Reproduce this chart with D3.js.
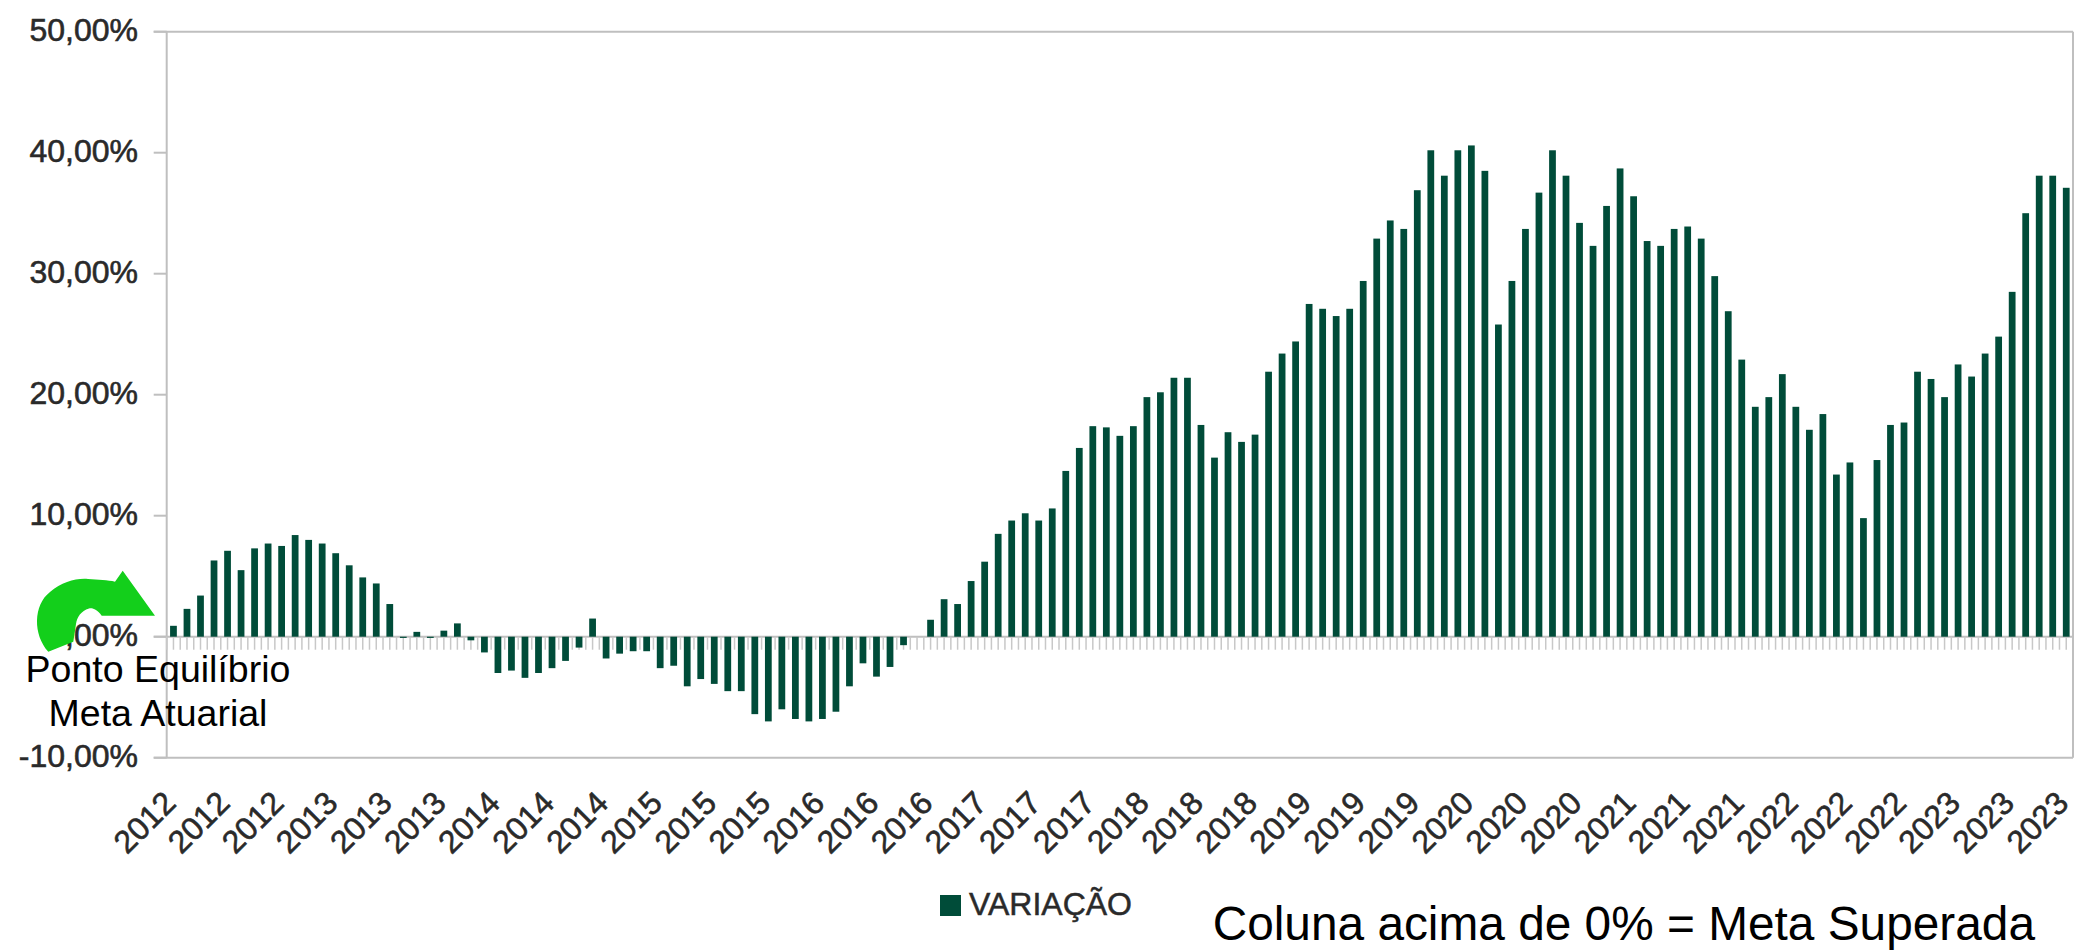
<!DOCTYPE html>
<html>
<head>
<meta charset="utf-8">
<script src="https://cdn.jsdelivr.net/npm/d3@7"></script>
<style>
  body { margin: 0; background: #fff; }
  svg text { font-family: "Liberation Sans", Arial, sans-serif; }
</style>
</head>
<body>
<svg id="chart" width="2075" height="950"></svg>
<script>
// variação mensal acumulada vs meta atuarial (%), jan/2012 .. set/2023
const valores = [
  0.9, 2.3, 3.4, 6.3, 7.1, 5.5, 7.3, 7.7, 7.5, 8.4, 8.0, 7.7,
  6.9, 5.9, 4.9, 4.4, 2.7, -0.1, 0.4, -0.1, 0.5, 1.1, -0.3, -1.3,
  -3.0, -2.8, -3.4, -3.0, -2.6, -2.0, -0.9, 1.5, -1.8, -1.4, -1.2, -1.2,
  -2.6, -2.4, -4.1, -3.5, -3.9, -4.5, -4.5, -6.4, -7.0, -6.0, -6.8, -7.0,
  -6.8, -6.2, -4.1, -2.2, -3.3, -2.5, -0.7, 0.0, 1.4, 3.1, 2.7, 4.6,
  6.2, 8.5, 9.6, 10.2, 9.6, 10.6, 13.7, 15.6, 17.4, 17.3, 16.6, 17.4,
  19.8, 20.2, 21.4, 21.4, 17.5, 14.8, 16.9, 16.1, 16.7, 21.9, 23.4, 24.4,
  27.5, 27.1, 26.5, 27.1, 29.4, 32.9, 34.4, 33.7, 36.9, 40.2, 38.1, 40.2,
  40.6, 38.5, 25.8, 29.4, 33.7, 36.7, 40.2, 38.1, 34.2, 32.3, 35.6, 38.7,
  36.4, 32.7, 32.3, 33.7, 33.9, 32.9, 29.8, 26.9, 22.9, 19.0, 19.8, 21.7,
  19.0, 17.1, 18.4, 13.4, 14.4, 9.8, 14.6, 17.5, 17.7, 21.9, 21.3, 19.8,
  22.5, 21.5, 23.4, 24.8, 28.5, 35.0, 38.1, 38.1, 37.1
];

// rótulo a cada 4 meses
const rotulosX = [
  "2012", "2012", "2012", "2013", "2013", "2013", "2014", "2014", "2014",
  "2015", "2015", "2015", "2016", "2016", "2016", "2017", "2017", "2017",
  "2018", "2018", "2018", "2019", "2019", "2019", "2020", "2020", "2020",
  "2021", "2021", "2021", "2022", "2022", "2022", "2023", "2023", "2023"
];
const passoRotulo = 4;

const ticksY = [50, 40, 30, 20, 10, 0, -10];

const serieNome = "VARIAÇÃO";
const nota = ["Ponto Equilíbrio", "Meta Atuarial"];
const rodape = "Coluna acima de 0% = Meta Superada";

const corBarra = "#004c39";
const corEixo = "#bfbfbf";
const corTexto = "#2a2a2a";

const svg = d3.select("#chart");

const plotLeft = 166.7, plotRight = 2073, plotTop = 31.7, plotBottom = 757.7;

const x = d3.scaleBand()
  .domain(d3.range(valores.length))
  .range([plotLeft, plotRight])
  .paddingInner(0.5)
  .paddingOuter(0.25);

const y = d3.scaleLinear().domain([-10, 50]).range([plotBottom, plotTop]);

const step = x.step();

// borda da área de plotagem
svg.append("line").attr("x1", plotLeft - 13).attr("x2", plotRight).attr("y1", y(50)).attr("y2", y(50))
  .attr("stroke", corEixo).attr("stroke-width", 2);
svg.append("line").attr("x1", plotLeft - 13).attr("x2", plotRight).attr("y1", y(-10)).attr("y2", y(-10))
  .attr("stroke", corEixo).attr("stroke-width", 2);
svg.append("line").attr("x1", plotRight).attr("x2", plotRight).attr("y1", y(50)).attr("y2", y(-10))
  .attr("stroke", corEixo).attr("stroke-width", 2);

// eixo y
svg.append("line").attr("x1", plotLeft).attr("x2", plotLeft).attr("y1", y(50)).attr("y2", y(-10))
  .attr("stroke", corEixo).attr("stroke-width", 2);

svg.selectAll(".ytick").data(ticksY).enter().append("line")
  .attr("class", "ytick")
  .attr("x1", plotLeft - 13).attr("x2", plotLeft)
  .attr("y1", d => y(d)).attr("y2", d => y(d))
  .attr("stroke", corEixo).attr("stroke-width", 2);

svg.selectAll(".ylabel").data(ticksY).enter().append("text")
  .attr("class", "ylabel")
  .attr("x", 138)
  .attr("y", d => y(d))
  .attr("dy", "0.3em")
  .attr("text-anchor", "end")
  .attr("font-size", 32)
  .attr("fill", corTexto)
  .attr("stroke", corTexto).attr("stroke-width", 0.6)
  .text(d => d.toFixed(2).replace(".", ",") + "%");

// linha do zero com as marcas de categoria
svg.append("line").attr("x1", plotLeft - 13).attr("x2", plotRight).attr("y1", y(0)).attr("y2", y(0))
  .attr("stroke", corEixo).attr("stroke-width", 2);

const marcas = [];
x.domain().forEach(i => {
  marcas.push(x(i) - step * 0.25);
  marcas.push(x(i) + x.bandwidth() / 2);
});
svg.selectAll(".mtick").data(marcas).enter().append("line")
  .attr("class", "mtick")
  .attr("x1", d => d).attr("x2", d => d)
  .attr("y1", y(0)).attr("y2", y(0) + 13)
  .attr("stroke", "#c8c8c8").attr("stroke-width", 1.5);

// barras
svg.selectAll(".bar").data(valores).enter().append("rect")
  .attr("class", "bar")
  .attr("x", (d, i) => x(i))
  .attr("width", x.bandwidth())
  .attr("y", d => y(Math.max(0, d)))
  .attr("height", d => Math.abs(y(d) - y(0)))
  .attr("fill", corBarra);

// rótulos do eixo x
svg.selectAll(".xlabel").data(rotulosX).enter().append("text")
  .attr("class", "xlabel")
  .attr("transform", (d, k) => {
    const i = k * passoRotulo;
    return "translate(" + (x(i) + x.bandwidth() / 2 + 4) + ",805) rotate(-45)";
  })
  .attr("text-anchor", "end")
  .attr("font-size", 32)
  .attr("fill", corTexto)
  .attr("stroke", corTexto).attr("stroke-width", 0.6)
  .text(d => d);

// legenda
svg.append("rect").attr("x", 940).attr("y", 895).attr("width", 21).attr("height", 21)
  .attr("fill", corBarra);
svg.append("text").attr("x", 969).attr("y", 915)
  .attr("font-size", 32).attr("fill", corTexto)
  .attr("stroke", corTexto).attr("stroke-width", 0.5)
  .text(serieNome);

// seta verde "ponto de equilíbrio"
svg.append("path")
  .attr("d", "M48.3,651.7 C33,635 33,605 50,592 C62,582 76,578 88,579 C98,579.5 108,580 115,581.7 " +
    "L122.7,570.7 L155,615.7 L101.7,615.7 C97,609 92,607.5 89,608.5 C81,611 77,617 76,624 " +
    "C75,631 74,637 73.3,641.7 Z")
  .attr("fill", "#13cf1b");

svg.selectAll(".nota").data(nota).enter().append("text")
  .attr("class", "nota")
  .attr("x", 158)
  .attr("y", (d, i) => 682 + i * 44)
  .attr("text-anchor", "middle")
  .attr("font-size", 37.5)
  .attr("fill", "#000")
  .text(d => d);

svg.append("text")
  .attr("x", 2035).attr("y", 940)
  .attr("text-anchor", "end")
  .attr("font-size", 47.8)
  .attr("fill", "#000")
  .text(rodape);
</script>
</body>
</html>
